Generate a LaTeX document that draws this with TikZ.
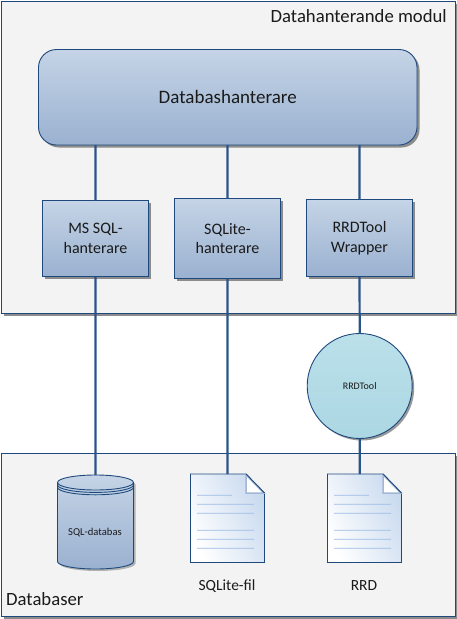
\documentclass[tikz,border=0pt]{standalone}
\usepackage{fontspec}
\setmainfont{Carlito}
\usepackage{xcolor}
\usetikzlibrary{shadows}
\usetikzlibrary{calc}
\definecolor{edge}{HTML}{1F497D}
\definecolor{wire}{HTML}{2A5488}
\definecolor{steeltop}{HTML}{C5D4E6}
\definecolor{steelbot}{HTML}{9AB1D0}
\definecolor{roundtop}{HTML}{BBE0EA}
\definecolor{roundbot}{HTML}{ABD7E3}
\definecolor{panelfill}{HTML}{F3F3F3}
\definecolor{sheet}{HTML}{C9DAEF}
\definecolor{rulecol}{HTML}{9DBBE6}
\definecolor{foldfill}{HTML}{A3B7D6}
\definecolor{ink}{HTML}{1A1A1A}
\tikzset{
  % A big grey area with a caption
  panel/.style={
    draw=edge, line width=0.9pt, fill=panelfill, rectangle, inner sep=0pt, outer sep=0pt,
    minimum width=454pt, minimum height=#1,
    general shadow={fill=black!45, shadow xshift=2.5pt, shadow yshift=-2.5pt}},
  % A gradient box for a handler
  unit/.style={
    draw=edge, line width=0.9pt, top color=steeltop, bottom color=steelbot, rectangle,
    align=center, font=\fontsize{16}{19.5}\selectfont, text=ink, inner sep=0pt, outer sep=0pt,
    minimum width=106pt, minimum height=#1,
    general shadow={fill=black!45, shadow xshift=2.5pt, shadow yshift=-2.5pt}},
  master/.style={
    unit=95.5pt, minimum width=378.5pt, rounded corners=18pt,
    font=\fontsize{19}{23}\selectfont},
  roundtool/.style={
    draw=edge, line width=0.9pt, top color=roundtop, bottom color=roundbot, circle,
    font=\fontsize{10}{12}\selectfont, text=ink, inner sep=0pt, outer sep=0pt,
    minimum size=105pt,
    general shadow={fill=black!40, shadow xshift=2pt, shadow yshift=-2pt}},
  dbbox/.style={
    rectangle, inner sep=0pt, outer sep=0pt, minimum width=76pt, minimum height=94pt},
  dbbody/.style={
    draw=edge, line width=0.9pt, top color=steeltop, bottom color=steelbot,
    general shadow={fill=black!30, shadow xshift=2pt, shadow yshift=-2pt}},
  dbrim/.style={draw=edge, line width=0.9pt},
  dblabel/.style={font=\fontsize{10.6}{13}\selectfont, text=ink, inner sep=0pt},
  filebox/.style={
    rectangle, inner sep=0pt, outer sep=0pt, minimum width=74pt, minimum height=88.5pt},
  areacap/.style={font=\fontsize{18.7}{22}\selectfont, text=ink, inner sep=0pt},
  filecap/.style={font=\fontsize{15.5}{18}\selectfont, text=ink, inner sep=0pt},
  wireline/.style={draw=wire, line width=2.2pt},
  ruling/.style={draw=rulecol, line width=0.8pt},
}
% A straight connector between two points on one vertical
\newcommand{\wirelink}[2]{%
  \draw[wireline] (#1) -- ($(#2)+(0.02,0)$);}
% A sheet with a folded corner and ruled lines
\newcommand{\fileicon}[4]{%
  \node[filebox] (#2) at (#1,-518.25) {};
  \draw[draw=edge, line width=0.9pt, left color=white, right color=sheet, shading angle=115]
    (#2.north west) -- ++(55.5,0) -- ++(18.5,-19) |- (#2.south west) -- cycle;
  \draw[draw=foldfill, line width=1.5pt, fill=white]
    ($(#2.north west)+(55.5,-0.8)$) -- ++(0,-18.2) -- ++(17.8,0) -- cycle;
  \draw[draw=edge, line width=0.9pt] ($(#2.north west)+(55.5,0)$) -- ++(18.5,-19);
  \draw[ruling] ($(#2.north west)+(6.5,-21.3)$) -- ++(35,0.02);
  \foreach \rulepos in {30.3,39.3,56.3,65.3,74.3}
    \draw[ruling] ($(#2.north west)+(6.5,-\rulepos)$) -- ++(57,0.02);
  \node[filecap] (#2cap) at (#3,-586) {#4};}

\begin{document}
\begin{tikzpicture}[x=1pt, y=1pt]
  \useasboundingbox (0,0) rectangle (457,-619);

  % the two areas
  \node[panel=312.5pt] (module) at (228,-157.25) {};
  \node[panel=162.5pt] (stores) at (228,-534.75) {};
  \node[areacap, anchor=east] (modulecap) at (447,-16.5) {Datahanterande modul};
  \node[areacap, anchor=west] (storescap) at (6,-599.5) {Databaser};

  % handlers
  \node[master] (manager) at (227.75,-97.25) {Databashanterare};
  \node[unit=76pt] (mssql) at (95.5,-238.5) {MS SQL-\\hanterare};
  \node[unit=80pt] (sqlite) at (227.5,-238.5) {SQLite-\\hanterare};
  \node[unit=77pt] (wrapper) at (359.5,-238) {RRDTool\\Wrapper};
  \node[roundtool] (rrdtool) at (359.7,-386) {RRDTool};

  % stores
  \node[dbbox] (sqldb) at (95.5,-522) {};
  \draw[dbbody] ($(sqldb.center)+(-38,39.5)$) -- ++(0,-79)
    arc[start angle=180, end angle=360, x radius=38, y radius=7.5] -- ++(0,79)
    arc[start angle=0, end angle=180, x radius=38, y radius=7.5] -- cycle;
  \foreach \rimpos in {39.5,37.1,34.7}
    \draw[dbrim] ($(sqldb.center)+(-38,\rimpos)$) arc[start angle=180, end angle=360, x radius=38, y radius=7.5];
  \node[dblabel] (sqllabel) at (95,-532.7) {SQL-databas};
  \fileicon{227.5}{sqlitefile}{227}{SQLite-fil}
  \fileicon{364.5}{rrdfile}{364}{RRD}

  % connections
  \wirelink{manager.south -| mssql.north}{mssql.north}
  \wirelink{manager.south -| sqlite.north}{sqlite.north}
  \wirelink{manager.south -| wrapper.north}{wrapper.north}
  \wirelink{mssql.south}{sqldb.north}
  \wirelink{sqlite.south}{sqlitefile.north -| sqlite.south}
  \wirelink{wrapper.south}{rrdtool.north}
  \wirelink{rrdtool.south}{rrdfile.north -| rrdtool.south}

\end{tikzpicture}
\end{document}
